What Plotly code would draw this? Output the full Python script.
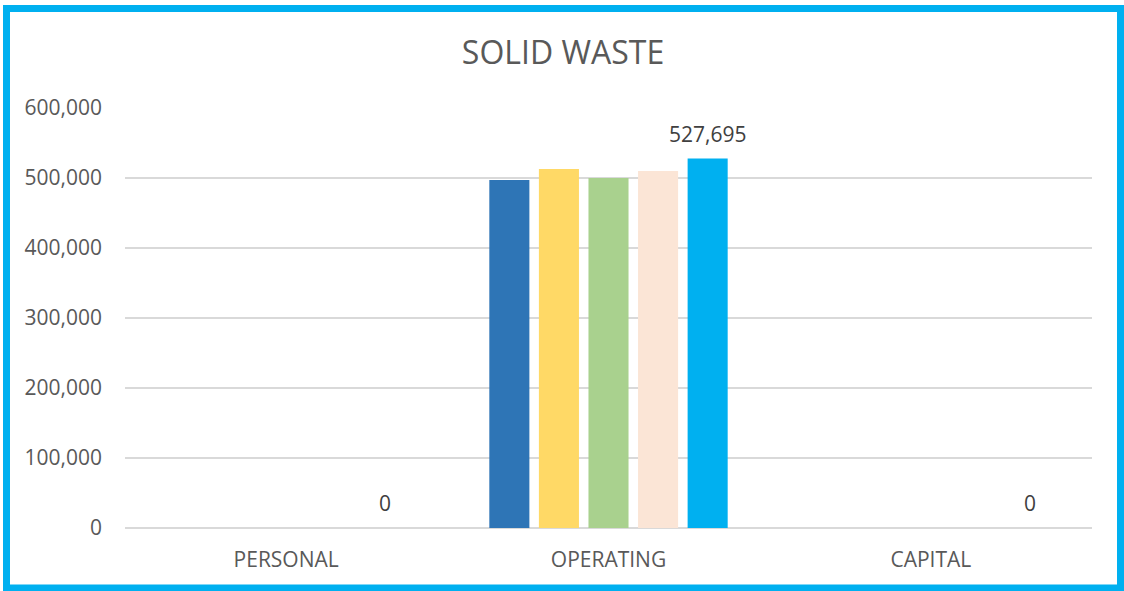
import plotly.graph_objects as go

categories = ["PERSONAL", "OPERATING", "CAPITAL"]
series_names = ["Series 1", "Series 2", "Series 3", "Series 4", "Series 5"]
series_values = [
    [0, 497000, 0],
    [0, 513000, 0],
    [0, 500000, 0],
    [0, 510000, 0],
    [0, 527695, 0],
]
colors = ["#2E75B6", "#FFD966", "#A9D18E", "#FBE5D6", "#00B0F0"]
title_text = "SOLID WASTE"

W, H = 1124, 591
L, R, T, B = 125, 32, 108, 63
pw, ph = W - L - R, H - T - B

fig = go.Figure()
for name, vals, col in zip(series_names, series_values, colors):
    fig.add_trace(go.Bar(x=categories, y=vals, name=name, marker=dict(color=col, line=dict(width=0))))

# data labels for last series
label_vals = series_values[-1]
slot = pw / 3 * (1 - 0.231) / 5
for cat, v in zip(categories, label_vals):
    fig.add_annotation(x=cat, y=v, text=f"{v:,}", showarrow=False, xshift=2 * slot, yshift=25,
                       yanchor="middle", xanchor="center",
                       font=dict(family="Open Sans", size=21, color="#404040"))

def px_x(p):
    return (p - L) / pw

def px_y(p):
    return (H - B - p) / ph

fig.add_shape(type="rect", xref="paper", yref="paper",
              x0=px_x(6.5), x1=px_x(1120.5), y0=px_y(588), y1=px_y(8.5),
              line=dict(color="#00B0F0", width=7), fillcolor="rgba(0,0,0,0)", layer="above")

fig.update_layout(
    width=W, height=H,
    margin=dict(l=L, r=R, t=T, b=B),
    paper_bgcolor="white", plot_bgcolor="white",
    barmode="group", bargap=0.231, bargroupgap=0.192,
    showlegend=False,
    title=dict(text=title_text, x=563 / W, xanchor="center", y=1 - 53 / H, yanchor="middle",
               font=dict(family="Open Sans", size=32, color="#595959")),
    font=dict(family="Open Sans", size=21, color="#595959"),
)
fig.update_yaxes(range=[0, 600000], dtick=100000, tickformat=",", showgrid=True,
                 gridcolor="#D9D9D9", gridwidth=1.5, zeroline=True, zerolinecolor="#D9D9D9",
                 zerolinewidth=1.5, ticks="", ticklabelstandoff=22,
                 tickfont=dict(family="Open Sans", size=21, color="#595959"))
fig.update_xaxes(showline=False, ticks="", ticklabelstandoff=17,
                 tickfont=dict(family="Open Sans", size=21, color="#595959"))

fig.write_html("out.html", config={"displayModeBar": False},
               post_script="document.body.style.margin='0';document.body.style.overflow='hidden';")
